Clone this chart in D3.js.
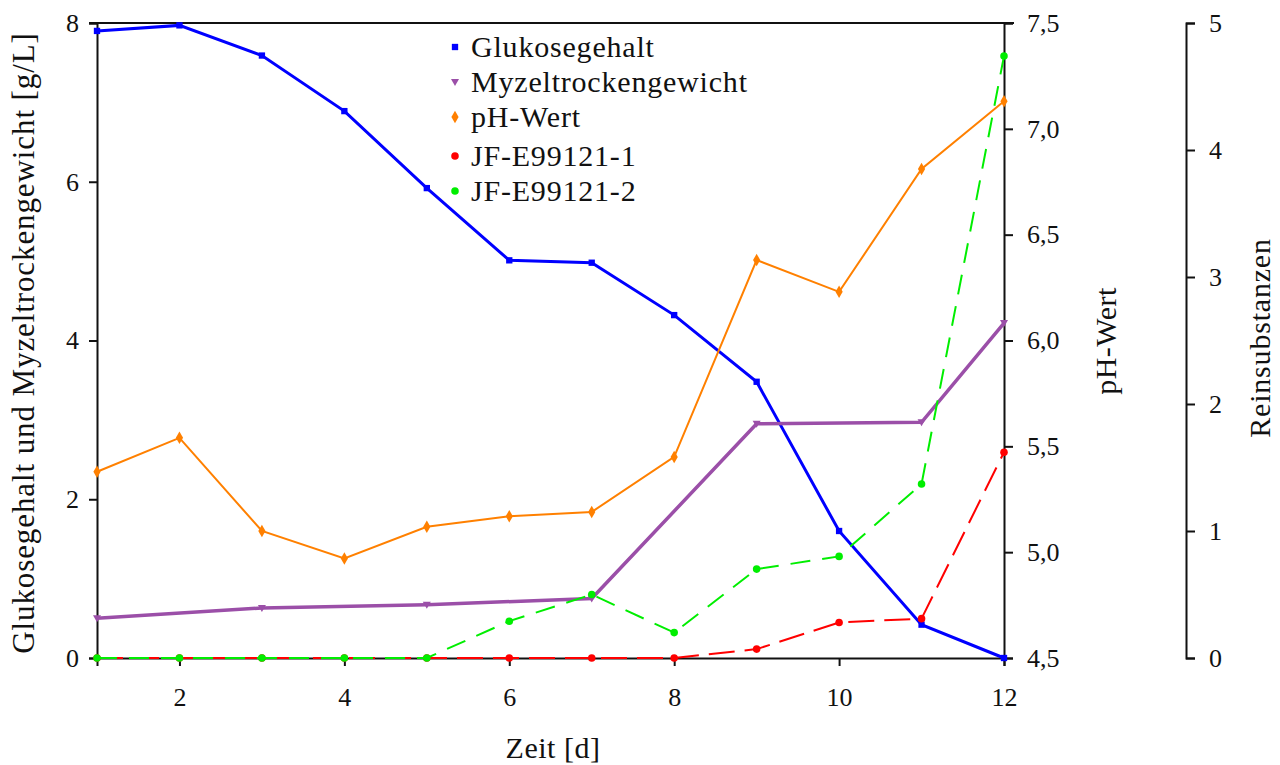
<!DOCTYPE html>
<html>
<head>
<meta charset="utf-8">
<script src="https://cdn.jsdelivr.net/npm/d3@7"></script>
<style>
    body { margin: 0; background: #fff; }
    svg text { font-family: "Liberation Serif", serif; fill: #111; }
</style>
</head>
<body>
<script>
'use strict';

var days = [1, 2, 3, 4, 5, 6, 7, 8, 9, 10, 11, 12];
var glukose = [7.90, 7.97, 7.59, 6.89, 5.92, 5.01, 4.98, 4.32, 3.48, 1.60, 0.42, 0.0];
var myzelDays = [1, 3, 5, 7, 9, 11, 12];
var myzel = [0.50, 0.63, 0.67, 0.75, 2.95, 2.97, 4.22];
var phWert = [5.38, 5.54, 5.10, 4.97, 5.12, 5.17, 5.19, 5.45, 6.38, 6.23, 6.81, 7.13];
var jf1 = [0, 0, 0, 0, 0, 0, 0, 0, 0.07, 0.28, 0.31, 1.62];
var jf2 = [0, 0, 0, 0, 0, 0.29, 0.50, 0.20, 0.70, 0.80, 1.37, 4.74];

var xTicks = [2, 4, 6, 8, 10, 12];
var leftTicks = [0, 2, 4, 6, 8];
var phTicks = [4.5, 5.0, 5.5, 6.0, 6.5, 7.0, 7.5];
var reinTicks = [0, 1, 2, 3, 4, 5];
var legendNames = ["Glukosegehalt", "Myzeltrockengewicht", "pH-Wert", "JF-E99121-1", "JF-E99121-2"];

var outerWidth = 1280, outerHeight = 765;
var plotLeft = 97, plotRight = 1004, plotTop = 23, plotBottom = 658;
var reinX = 1186;
var serif = '"Liberation Serif", serif';

var svg = d3.select("body").append("svg")
    .attr("width", outerWidth)
    .attr("height", outerHeight);

var x = d3.scaleLinear().domain([1, 12]).range([plotLeft, plotRight]);
var yLeft = d3.scaleLinear().domain([0, 8]).range([plotBottom, plotTop]);
var yPh = d3.scaleLinear().domain([4.5, 7.5]).range([plotBottom, plotTop]);
var yRein = d3.scaleLinear().domain([0, 5]).range([plotBottom, plotTop]);

// axes
function styleAxis(g) {
    g.attr("font-family", null).attr("font-size", null);
    g.select(".domain").attr("stroke", "#111").attr("stroke-width", 2);
    g.selectAll(".tick line").attr("stroke", "#111").attr("stroke-width", 2);
    g.selectAll(".tick text")
        .style("font-family", serif)
        .style("font-size", "26px")
        .style("fill", "#111");
}

svg.append("g")
    .attr("transform", "translate(0," + plotBottom + ")")
    .call(d3.axisBottom(x).tickValues(xTicks).tickSizeOuter(0).tickSize(8).tickPadding(22).tickFormat(d3.format("d")))
    .call(styleAxis);

svg.append("g")
    .attr("transform", "translate(" + plotLeft + ",0)")
    .call(d3.axisLeft(yLeft).tickValues(leftTicks).tickSizeOuter(0).tickSize(8).tickPadding(10).tickFormat(d3.format("d")))
    .call(styleAxis);

svg.append("g")
    .attr("transform", "translate(" + plotRight + ",0)")
    .call(d3.axisRight(yPh).tickValues(phTicks).tickSizeOuter(0).tickSize(9).tickPadding(14)
        .tickFormat(function(d) { return d3.format(".1f")(d).replace(".", ","); }))
    .call(styleAxis);

svg.append("g")
    .attr("transform", "translate(" + reinX + ",0)")
    .call(d3.axisRight(yRein).tickValues(reinTicks).tickSizeOuter(0).tickSize(9).tickPadding(14).tickFormat(d3.format("d")))
    .call(styleAxis);

// top border
svg.append("line")
    .attr("x1", plotLeft - 8).attr("x2", plotRight + 10)
    .attr("y1", plotTop).attr("y2", plotTop)
    .attr("stroke", "#111").attr("stroke-width", 2);

// axis titles
function title(txt, tx, ty, rot, size, spacing) {
    svg.append("text")
        .attr("transform", "translate(" + tx + "," + ty + ")" + (rot ? " rotate(-90)" : ""))
        .attr("text-anchor", "middle")
        .style("font-family", serif)
        .style("font-size", size + "px")
        .style("letter-spacing", spacing + "px")
        .text(txt);
}
title("Zeit [d]", 553, 758, false, 30, 0.5);
title("Glukosegehalt und Myzeltrockengewicht [g/L]", 34, 343, true, 31, 0.9);
title("pH-Wert", 1116, 341, true, 30, 0.5);
title("Reinsubstanzen", 1270, 338, true, 30, 0.8);

// series
var series = [
    { xs: days, ys: glukose, scale: yLeft, color: "#0000ff", width: 3, dash: null, symbol: d3.symbolSquare, size: 40 },
    { xs: myzelDays, ys: myzel, scale: yLeft, color: "#9b4fa8", width: 3.5, dash: null, symbol: "tri", size: 40 },
    { xs: days, ys: phWert, scale: yPh, color: "#ff8000", width: 2, dash: null, symbol: d3.symbolDiamond, size: 45 },
    { xs: days, ys: jf1, scale: yRein, color: "#ff0000", width: 2, dash: "26,10", symbol: d3.symbolCircle, size: 45 },
    { xs: days, ys: jf2, scale: yRein, color: "#00ee00", width: 2, dash: "20,12", symbol: d3.symbolCircle, size: 45 }
];

function symbolPath(s) {
    if (s.symbol === "tri") {
        return "M-4,-3L4,-3L0,4Z";
    }
    return d3.symbol().type(s.symbol).size(s.size)();
}

series.forEach(function(s) {
    var pts = s.xs.map(function(d, i) { return [d, s.ys[i]]; });
    var line = d3.line()
        .x(function(d) { return x(d[0]); })
        .y(function(d) { return s.scale(d[1]); });

    svg.append("path")
        .datum(pts)
        .attr("d", line)
        .attr("fill", "none")
        .attr("stroke", s.color)
        .attr("stroke-width", s.width)
        .attr("stroke-dasharray", s.dash);

    svg.selectAll(null)
        .data(pts)
        .enter()
        .append("path")
        .attr("transform", function(d) { return "translate(" + x(d[0]) + "," + s.scale(d[1]) + ")"; })
        .attr("d", symbolPath(s))
        .attr("fill", s.color);
});

// legend
var legend = svg.append("g").attr("transform", "translate(455,47)");
legendNames.forEach(function(name, i) {
    var gy = i * 35 + (i >= 3 ? 4 : 0);
    legend.append("path")
        .attr("transform", "translate(0," + gy + ")")
        .attr("d", symbolPath(series[i]))
        .attr("fill", series[i].color);
    legend.append("text")
        .attr("x", 16).attr("y", gy + 10)
        .style("font-family", serif)
        .style("font-size", "30px")
        .style("letter-spacing", "0.8px")
        .text(name);
});
</script>
</body>
</html>
